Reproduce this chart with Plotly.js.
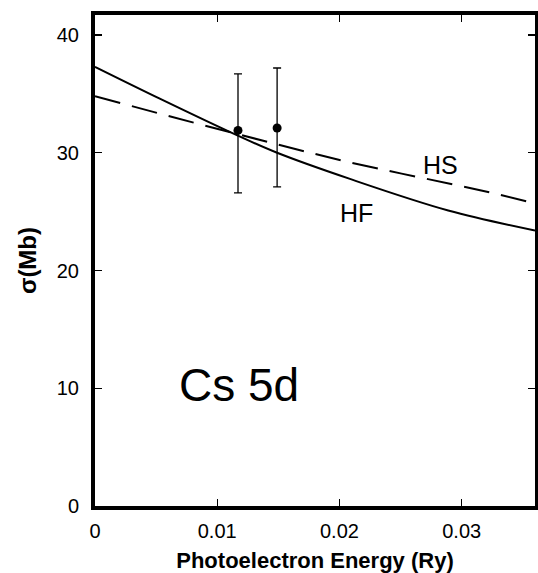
<!DOCTYPE html>
<html>
<head>
<script src="https://cdn.plot.ly/plotly-3.0.1.min.js"></script>
<style>html,body{margin:0;padding:0;background:#fff;}#chart{width:538px;height:573px;}</style>
</head>
<body>
<div id="chart"></div>
<script>
// Hartree-Fock (solid) curve
const hfX = [0, 0.0053, 0.0116, 0.0149, 0.0208, 0.0289, 0.036];
const hfY = [37.3, 34.6, 31.5, 30.0, 27.8, 25.1, 23.4];
// HS (dashed) curve
const hsX = [0, 0.0116, 0.0208, 0.0316, 0.036];
const hsY = [34.8, 31.6, 29.2, 26.8, 25.7];
// Experimental points with error bars
const expX = [0.0117, 0.0149];
const expY = [31.9, 32.1];
const expErrPlus = [4.8, 5.1];
const expErrMinus = [5.3, 5.0];

const font = "Liberation Sans, Arial, Helvetica, sans-serif";

const traces = [
  {x: hfX, y: hfY, mode: 'lines', line: {color: '#000', width: 2, shape: 'spline'}, hoverinfo: 'skip'},
  {x: hsX, y: hsY, mode: 'lines', line: {color: '#000', width: 2, dash: '26px,12px', shape: 'spline'}, hoverinfo: 'skip'},
  {x: expX, y: expY, mode: 'markers', marker: {color: '#000', size: 9},
   error_y: {type: 'data', symmetric: false, array: expErrPlus, arrayminus: expErrMinus, color: '#000', thickness: 1.3, width: 4}}
];

const layout = {
  width: 538, height: 573,
  margin: {l: 95, r: 3, t: 15, b: 67},
  paper_bgcolor: '#fff', plot_bgcolor: '#fff',
  showlegend: false,
  font: {family: font, color: '#000', size: 20},
  xaxis: {
    range: [0, 0.036], tickvals: [0, 0.01, 0.02, 0.03], ticktext: ['0', '0.01', '0.02', '0.03'],
    ticks: 'inside', ticklen: 7, tickwidth: 1.3, tickcolor: '#000',
    showline: true, linewidth: 4, linecolor: '#000', mirror: 'ticks',
    showgrid: false, zeroline: false, ticklabelstandoff: 4,
    tickfont: {size: 20, family: font},
    title: {text: '<b>Photoelectron Energy (Ry)</b>', font: {size: 22, family: font}, standoff: 22}
  },
  yaxis: {
    range: [0, 41.7], tickvals: [0, 10, 20, 30, 40],
    ticks: 'inside', ticklen: 7, tickwidth: 1.3, tickcolor: '#000',
    showline: true, linewidth: 4, linecolor: '#000', mirror: 'ticks',
    showgrid: false, zeroline: false, ticklabelstandoff: 8,
    tickfont: {size: 20, family: font},
    title: {text: '<b>σ(Mb)</b>', font: {size: 24, family: font}, standoff: 14}
  },
  annotations: [
    {x: 0.0283, y: 28.95, xref: 'x', yref: 'y', text: 'HS', showarrow: false, font: {size: 25, family: font}},
    {x: 0.0214, y: 24.9, xref: 'x', yref: 'y', text: 'HF', showarrow: false, font: {size: 25, family: font}},
    {x: 0.0118, y: 10.3, xref: 'x', yref: 'y', text: 'Cs 5d', showarrow: false, font: {size: 46, family: font}}
  ]
};

Plotly.newPlot('chart', traces, layout, {displayModeBar: false, staticPlot: true});
</script>
</body>
</html>
